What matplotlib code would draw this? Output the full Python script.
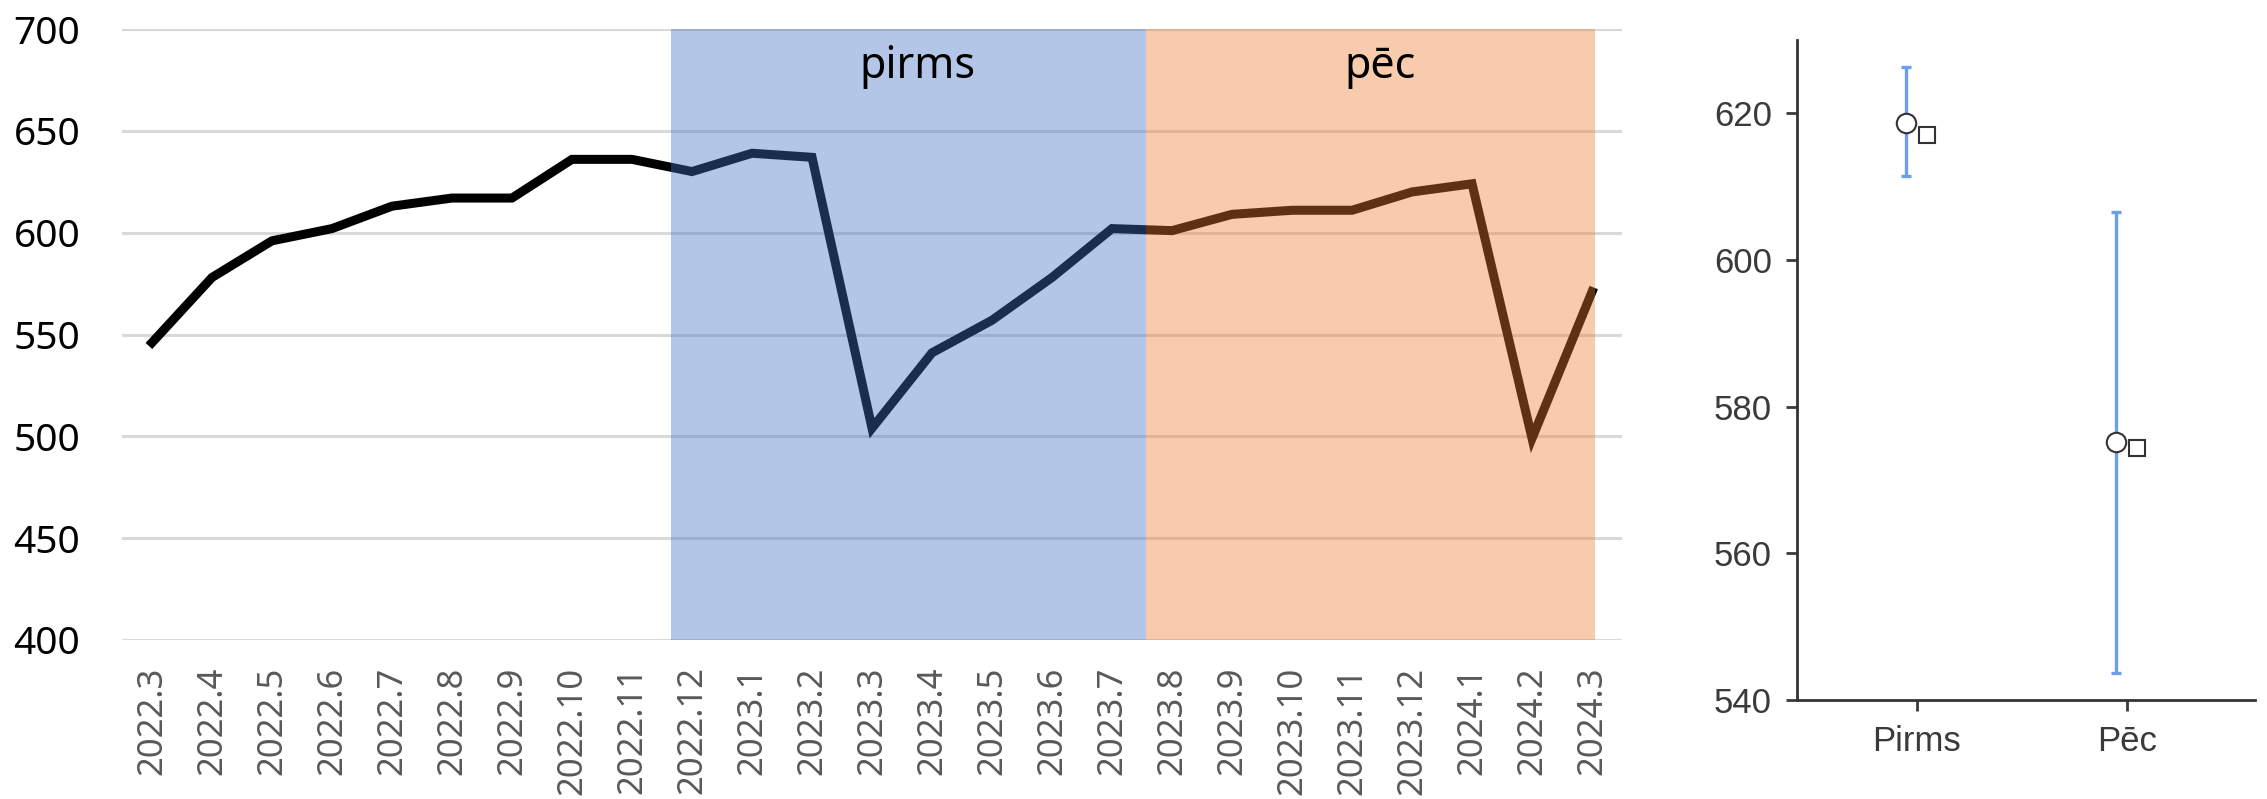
import numpy as np
import matplotlib.pyplot as plt
import matplotlib as mpl

mpl.rcParams['font.family'] = 'Noto Sans'

# monthly series
months = ['2022.3', '2022.4', '2022.5', '2022.6', '2022.7', '2022.8', '2022.9',
          '2022.10', '2022.11', '2022.12', '2023.1', '2023.2', '2023.3', '2023.4',
          '2023.5', '2023.6', '2023.7', '2023.8', '2023.9', '2023.10', '2023.11',
          '2023.12', '2024.1', '2024.2', '2024.3']
values = [546, 578, 596, 602, 613, 617, 617, 636, 636, 630, 639, 637, 504, 541,
          557, 578, 602, 601, 609, 611, 611, 620, 624, 499, 571]

# shaded periods (category units)
period_names = ['pirms', 'pēc']
period_start = [8.65, 16.57]
period_end = [16.57, 24.05]
period_colors = ['#4472C4', '#ED7D31']

# summary panel
groups = ['Pirms', 'Pēc']
means = [618.7, 575.2]
medians = [617.0, 574.4]
err_low = [611.4, 543.7]
err_high = [626.3, 606.6]

fig = plt.figure(figsize=(22.67, 7.99), dpi=100)

# ---- left: time series with shaded periods
ax = fig.add_axes([0.0538, 0.199, 0.6617, 0.7647])
x = np.arange(len(months))
ax.plot(x, values, color='black', lw=6.5, solid_joinstyle='miter', zorder=3)
for s, e, c in zip(period_start, period_end, period_colors):
    ax.axvspan(s, e, ymin=0, ymax=1, color=c, alpha=0.4, lw=0, zorder=4)
for name, s, e in zip(period_names, period_start, period_end):
    ax.text((s + e) / 2 + 0.15, 676, name, ha='center', va='baseline',
            fontsize=31, color='black', zorder=5)
ax.set_xlim(-0.5, 24.5)
ax.set_ylim(400, 700)
ax.set_yticks(np.arange(400, 701, 50))
ax.set_xticks(x)
ax.set_xticklabels(months, rotation=90, fontsize=25, color='#595959')
ax.tick_params(axis='x', length=0, pad=19)
ax.tick_params(axis='y', length=0, pad=30, labelsize=28)
ax.grid(axis='y', color='#D9D9D9', lw=2.2)
ax.set_axisbelow(True)
for sp in ax.spines.values():
    sp.set_visible(False)

# ---- right: means with error bars
ax2 = fig.add_axes([0.7927, 0.1239, 0.202, 0.8261])
gx = np.arange(len(groups))
ax2.errorbar(gx - 0.05, means,
             yerr=[np.array(means) - np.array(err_low), np.array(err_high) - np.array(means)],
             fmt='none', ecolor='#6D9EEB', elinewidth=2.4, capsize=3.5, capthick=2.4, zorder=2)
ax2.plot(gx - 0.05, means, 'o', ms=14, mfc='white', mec='#333333', mew=1.5, zorder=3)
ax2.plot(gx + 0.05, medians, 's', ms=12, mfc='white', mec='#333333', mew=1.5, zorder=3)
ax2.set_xlim(-0.57, 1.61)
ax2.set_ylim(540, 630)
ax2.set_yticks([540, 560, 580, 600, 620])
ax2.set_xticks(gx)
ax2.set_xticklabels(groups)
for lab in ax2.get_xticklabels() + ax2.get_yticklabels():
    lab.set_family('Liberation Sans')
ax2.tick_params(axis='both', labelsize=25, colors='#3a3a3a', length=8, width=2, pad=10)
ax2.spines['top'].set_visible(False)
ax2.spines['right'].set_visible(False)
for s in ('left', 'bottom'):
    ax2.spines[s].set_color('#333333')
    ax2.spines[s].set_linewidth(2)

fig.savefig('out.png', dpi=100)
